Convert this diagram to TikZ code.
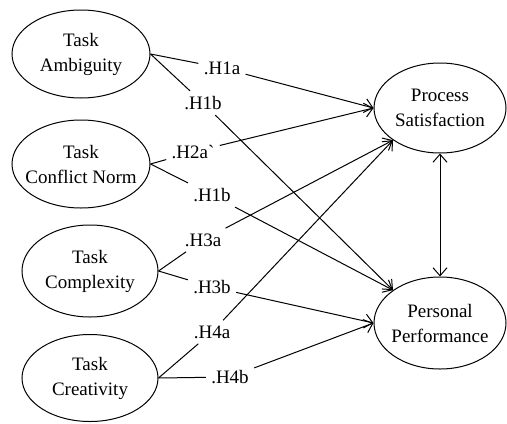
\documentclass[tikz,border=0pt]{standalone}
\usepackage{fontspec}
\setmainfont{Liberation Serif}
\usetikzlibrary{arrows.meta,shapes.geometric}
\tikzset{var/.style={draw,ellipse,inner xsep=-4pt,inner ysep=0pt,minimum width=69pt,minimum height=44pt,align=center,line width=.5pt,font=\fontsize{9.5}{12.5}\selectfont},
 hyp/.style={inner sep=2.5pt,font=\fontsize{9.5}{11}\selectfont},
 wire/.style={line width=.5pt},barb/.style={Straight Barb[length=4pt,width=7pt]},
 arr/.style={wire,-{Straight Barb[length=4pt,width=7pt]}}}
\begin{document}
\begin{tikzpicture}[x=.5pt,y=-.5pt]
\useasboundingbox (0,0) rectangle (507,423);
% antecedents
\node[var] (amb) at (81,54) {Task\\Ambiguity};
\node[var] (cfl) at (81,164) {Task\\Conflict Norm};
\node[var,minimum width=68pt,minimum height=46pt] (cpx) at (90,271) {Task\\Complexity};
\node[var,minimum width=68pt,minimum height=43.5pt] (crt) at (90,378) {Task\\Creativity};
% outcomes
\node[var,minimum width=66pt,minimum height=45pt] (ps) at (440,108) {Process\\Satisfaction};
\node[var,minimum width=66pt,minimum height=46pt] (pp) at (440,323) {Personal\\Performance};
% hypotheses
\node[hyp] (h1a) at (222,68) {.H1a};\node[hyp] (h1b) at (203,103) {.H1b};
\node[hyp] (h2a) at (193,152) {.H2a\textasciigrave};\node[hyp] (h1c) at (212,195) {.H1b};
\node[hyp] (h3a) at (203,240) {.H3a};\node[hyp] (h3b) at (212,287) {.H3b};
\node[hyp] (h4a) at (212,332) {.H4a};\node[hyp] (h4b) at (230,377) {.H4b};
\draw[wire] (amb.east)--(h1a);\draw[arr] (h1a)--(ps.west);
\draw[wire] (amb.east)--(h1b);\draw[arr] (h1b)--(pp.north west);
\draw[wire] (cfl.east)--(h2a);\draw[arr] (h2a)--(ps.west);
\draw[wire] (cfl.east)--(h1c);\draw[arr] (h1c)--(pp.north west);
\draw[wire] (cpx.east)--(h3a);\draw[arr] (h3a)--(ps.south west);
\draw[wire] (cpx.east)--(h3b);\draw[arr] (h3b)--(pp.west);
\draw[wire] (crt.east)--(h4a);\draw[arr] (h4a)--(ps.south west);
\draw[wire] (crt.east)--(h4b);\draw[arr] (h4b)--(pp.west);
\draw[wire,{Straight Barb[length=4pt,width=7pt]}-{Straight Barb[length=4pt,width=7pt]}] (ps)--(pp);
\end{tikzpicture}
\end{document}
